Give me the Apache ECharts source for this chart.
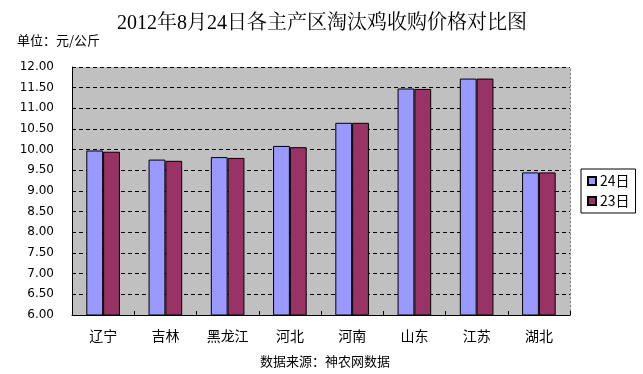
<!DOCTYPE html>
<html><head><meta charset="utf-8">
<script src="https://cdn.jsdelivr.net/npm/echarts@6/dist/echarts.min.js"></script>
<style>html,body{margin:0;padding:0;background:#fff}#c{width:643px;height:374px}</style>
</head><body><div id="c"></div>
<script>
const categories = ['辽宁','吉林','黑龙江','河北','河南','山东','江苏','湖北'];
const series24 = [9.98, 9.76, 9.82, 10.09, 10.65, 11.48, 11.72, 9.45];
const series23 = [9.95, 9.73, 9.80, 10.06, 10.65, 11.47, 11.72, 9.45];
const seriesNames = ['24日','23日'];
const titleText = '2012年8月24日各主产区淘汰鸡收购价格对比图';
const unitText = '单位：元/公斤';
const sourceText = '数据来源：神农网数据';

const chart = echarts.init(document.getElementById('c'));
const sans = '"Noto Sans CJK SC", "DejaVu Sans", sans-serif';
chart.setOption({
  backgroundColor: '#fff',
  animation: false,
  title: [
    {text: titleText, left: 317, top: 9, textAlign: 'center',
     textStyle: {fontFamily: '"Liberation Serif", "Noto Serif CJK SC", "Noto Sans CJK SC", serif', fontSize: 20, fontWeight: 'normal', color: '#000'}},
    {text: unitText, left: 12, top: 29, textStyle: {fontFamily: sans, fontSize: 13, fontWeight: 'normal', color: '#000'}},
    {text: sourceText, left: 320, top: 350, textAlign: 'center', textStyle: {fontFamily: sans, fontSize: 13, fontWeight: 'normal', color: '#000'}}
  ],
  legend: {
    orient: 'vertical', left: 581, top: 169,
    data: seriesNames,
    icon: 'rect',
    itemWidth: 8, itemHeight: 8, itemGap: 6,
    padding: [5, 6, 5, 6],
    borderColor: '#000', borderWidth: 1,
    textStyle: {fontFamily: sans, fontSize: 14, color: '#000', padding: [0,0,0,-1]}
  },
  grid: {left: 72, right: 73, top: 67, bottom: 59, show: true, backgroundColor: '#C0C0C0', borderWidth: 0},
  xAxis: {
    type: 'category', data: categories,
    axisLine: {lineStyle: {color: '#000', width: 1}},
    axisTick: {show: true, inside: true, length: 4, lineStyle: {color: '#000'}},
    axisLabel: {fontFamily: sans, fontSize: 14, color: '#000', margin: 14}
  },
  yAxis: [{
    type: 'value', min: 6, max: 12, interval: 0.5,
    axisLine: {show: true, lineStyle: {color: '#000'}},
    axisTick: {show: false},
    axisLabel: {fontFamily: '"DejaVu Sans", sans-serif', fontSize: 12, color: '#000', margin: 18, formatter: v => v.toFixed(2)},
    splitLine: {show: true, lineStyle: {color: '#000', type: [4, 3], width: 1}}
  }, {
    type: 'value', min: 6, max: 12, interval: 0.5, position: 'right',
    axisLine: {show: true, lineStyle: {color: '#808080', type: [2, 2]}},
    axisTick: {show: false}, axisLabel: {show: false}, splitLine: {show: false}
  }],
  series: [
    {name: seriesNames[0], type: 'bar', data: series24, barGap: '0%', barCategoryGap: '46%',
     itemStyle: {color: '#9999FF', borderColor: '#000', borderWidth: 1}},
    {name: seriesNames[1], type: 'bar', data: series23,
     itemStyle: {color: '#993366', borderColor: '#000', borderWidth: 1}}
  ]
});
</script></body></html>
